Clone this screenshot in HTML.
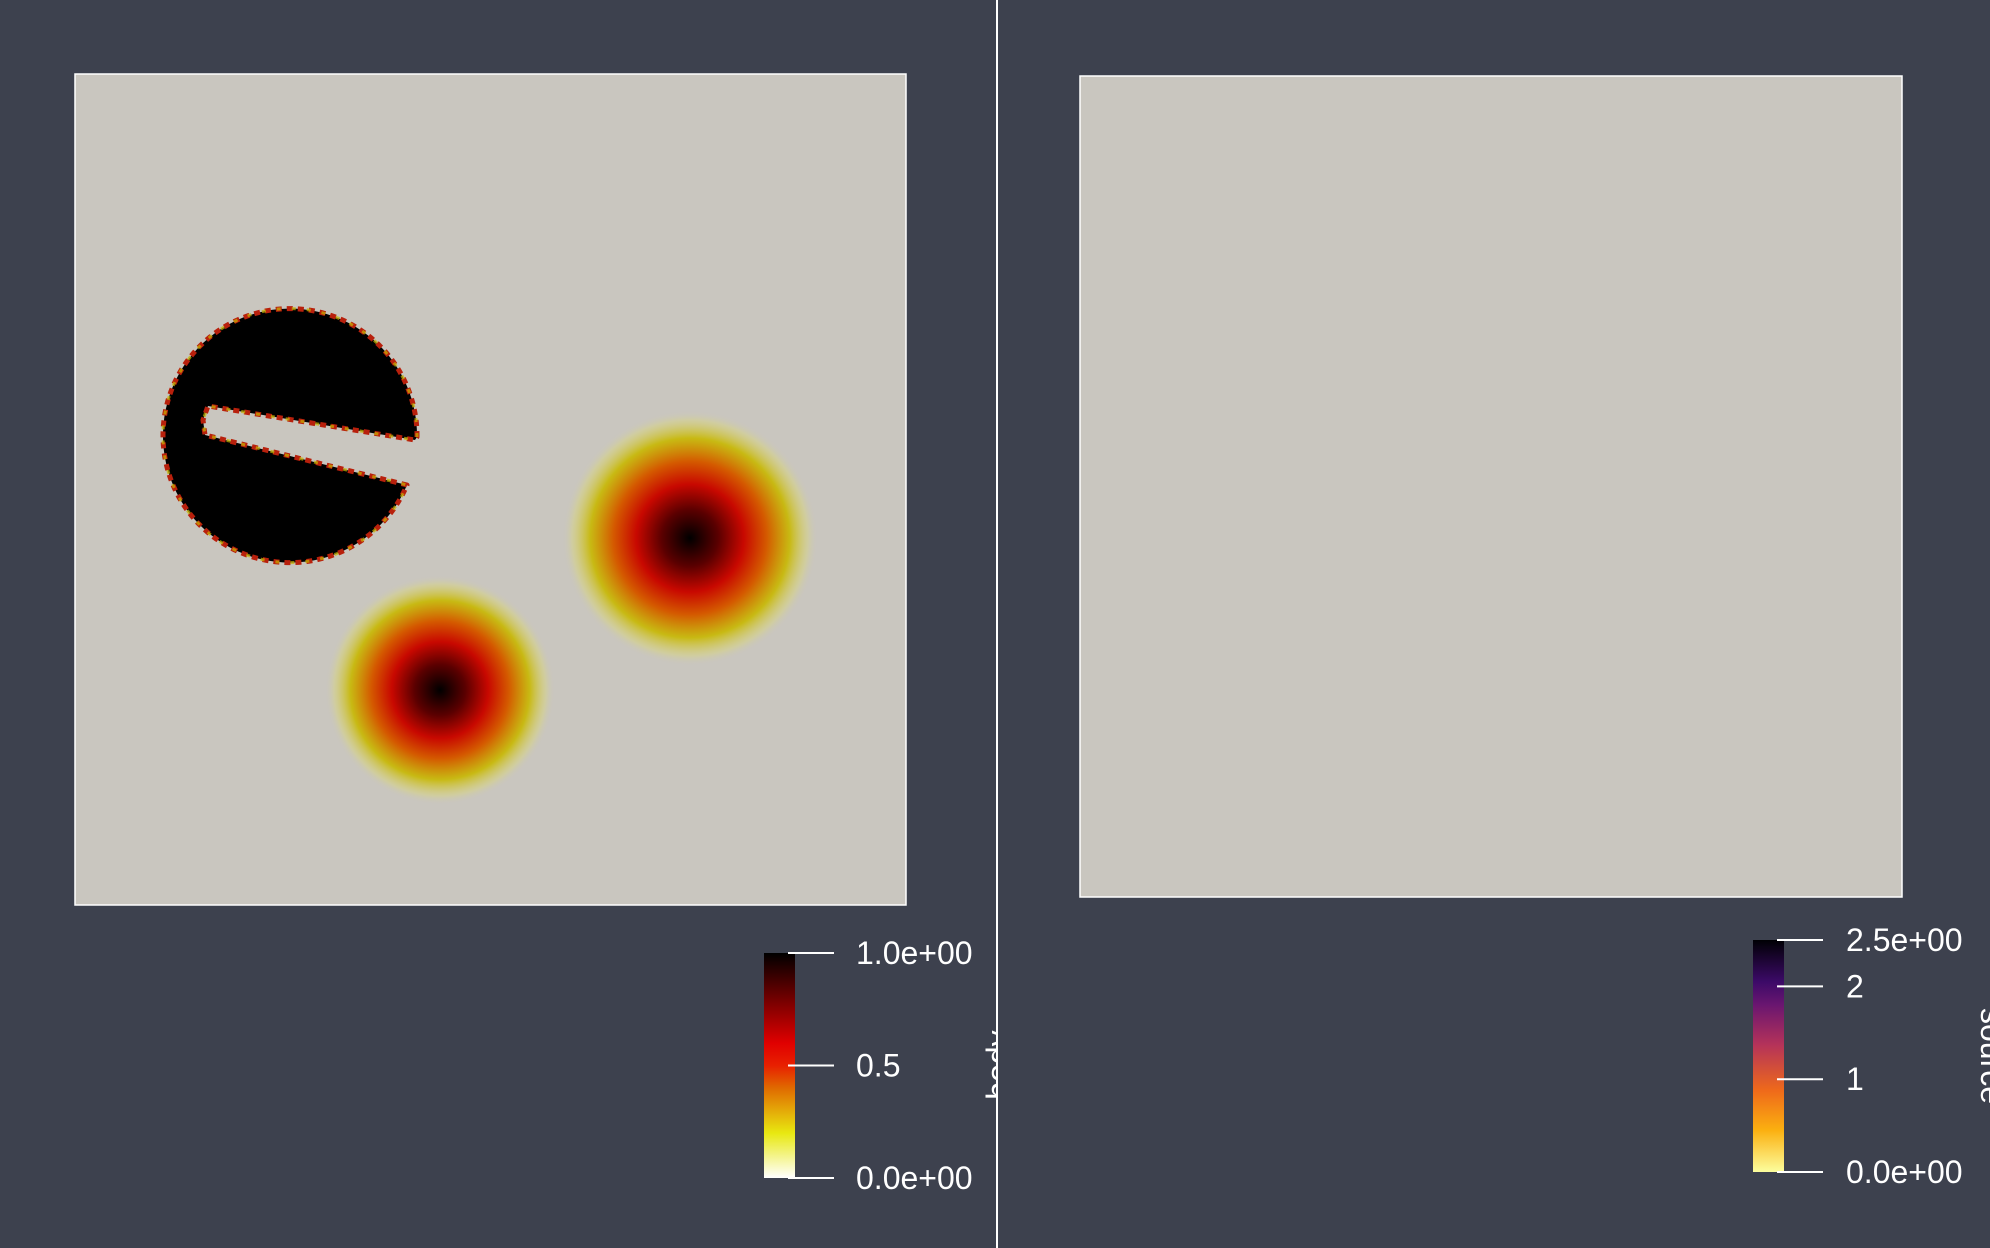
<!DOCTYPE html>
<html><head><meta charset="utf-8"><style>
html,body{margin:0;padding:0;background:#3d414e;width:1990px;height:1248px;overflow:hidden}
svg{display:block}
text{font-family:"Liberation Sans",sans-serif;fill:#fff}
</style></head><body>
<svg id="s" width="1990" height="1248" viewBox="0 0 1990 1248">
<defs>
<radialGradient id="gauss">
<stop offset="0" stop-color="#000"/>
<stop offset="0.22" stop-color="#5a0000"/>
<stop offset="0.42" stop-color="#c80800"/>
<stop offset="0.6" stop-color="#d45a00"/>
<stop offset="0.78" stop-color="#c8b800" stop-opacity="0.9"/>
<stop offset="0.92" stop-color="#d8d480" stop-opacity="0.5"/>
<stop offset="1" stop-color="#c9c6bf" stop-opacity="0"/>
</radialGradient>
<linearGradient id="cb1" x1="0" y1="1" x2="0" y2="0">
<stop offset="0" stop-color="#ffffff"/><stop offset="0.2" stop-color="#e8e810"/>
<stop offset="0.4" stop-color="#e06a00"/><stop offset="0.5" stop-color="#e82000"/>
<stop offset="0.6" stop-color="#e00000"/><stop offset="0.8" stop-color="#700000"/>
<stop offset="1" stop-color="#000000"/></linearGradient>
<linearGradient id="cb2" x1="0" y1="1" x2="0" y2="0">
<stop offset="0" stop-color="#fcfe9e"/><stop offset="0.18" stop-color="#fbb010"/>
<stop offset="0.35" stop-color="#ef6a1a"/><stop offset="0.55" stop-color="#b4325a"/>
<stop offset="0.72" stop-color="#6a1670"/><stop offset="0.82" stop-color="#3c0a68"/>
<stop offset="1" stop-color="#000004"/></linearGradient>
<clipPath id="leftclip"><rect x="0" y="0" width="996" height="1248"/></clipPath>
</defs>
<rect x="75" y="74" width="831" height="831" fill="#c9c6bf" stroke="#fff" stroke-width="1.5"/>
<circle cx="690" cy="538" r="128" fill="url(#gauss)"/>
<circle cx="440" cy="690" r="115" fill="url(#gauss)"/>
<path d="M417,437 A127,127 0 1 0 407,485 L205,435 L203,420 L208,406 L415,440 Z" fill="#000" stroke="#b8200c" stroke-width="5" stroke-dasharray="6 5" stroke-linejoin="round"/>
<path d="M417,437 A127,127 0 1 0 407,485 L205,435 L203,420 L208,406 L415,440 Z" fill="none" stroke="#c8b400" stroke-width="3" stroke-dasharray="4 11" opacity="0.7"/>
<line x1="997" y1="0" x2="997" y2="1248" stroke="#fff" stroke-width="2"/>
<rect x="1080" y="76" width="822" height="821" fill="#c9c6bf" stroke="#fff" stroke-width="1.5"/>
<g id="cbars"></g>
</svg>
<script>
const cb1Ticks=[0,0.5,1.0];
const cb1Labels=["0.0e+00","0.5","1.0e+00"];
const cb2Ticks=[0,1,2,2.5];
const cb2Labels=["0.0e+00","1","2","2.5e+00"];
const NS="http://www.w3.org/2000/svg";
const g=document.getElementById('cbars');
function mk(t,a){const e=document.createElementNS(NS,t);for(const k in a)e.setAttribute(k,a[k]);g.appendChild(e);return e;}
function bar(x0,x1,y0,y1,grad,min,max,ticks,labels,tx,lx,title,titleX,titleY,rot,name){
  const r=mk('rect',{x:x0,y:y0,width:x1-x0,height:y1-y0,fill:grad});
  
  
  const sy=v=>y1-(v-min)/(max-min)*(y1-y0);
  ticks.forEach((v,i)=>{
    const l=mk('line',{x1:x1-7,x2:tx,y1:sy(v),y2:sy(v),stroke:'#fff','stroke-width':2});
    
    
    const t=mk('text',{x:lx,y:sy(v)+11,'font-size':32});
    t.textContent=labels[i];
    
    
  });
  const a={x:titleX,y:titleY,'font-size':32,'text-anchor':'middle',transform:`rotate(${rot} ${titleX} ${titleY})`};
  const wrap=mk('g',name==='body'?{'clip-path':'url(#leftclip)'}:{});
  const tt=document.createElementNS(NS,'text');
  for(const k in a)tt.setAttribute(k,a[k]);
  wrap.appendChild(tt);
  tt.textContent=title;
  
  
}
bar(764,795,953,1178,'url(#cb1)',0,1,cb1Ticks,cb1Labels,834,856,'body',1009,1065,-90,'body');
bar(1753,1784,940,1172,'url(#cb2)',0,2.5,cb2Ticks,cb2Labels,1823,1846,'source',1981,1056,90,'source');
</script>
</body></html>
